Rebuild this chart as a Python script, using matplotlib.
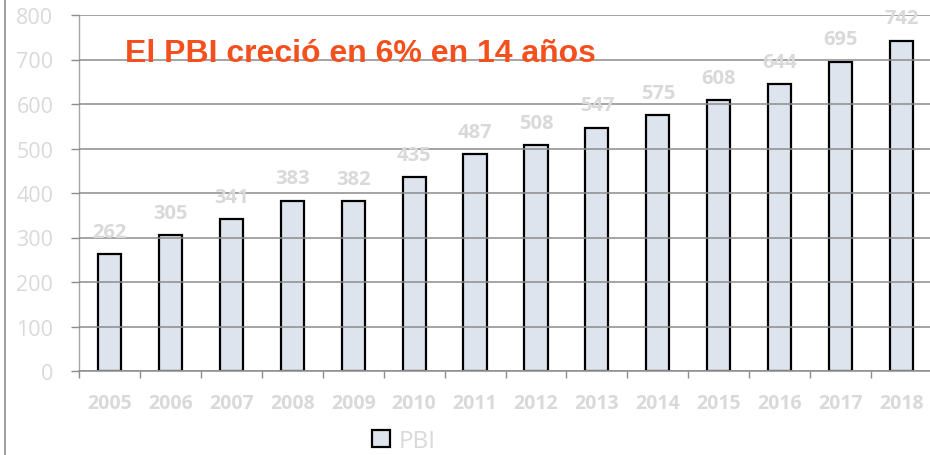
import matplotlib
matplotlib.use("Agg")
import matplotlib.pyplot as plt
from matplotlib.patches import Rectangle
from matplotlib.lines import Line2D
import numpy as np

years = ["2005", "2006", "2007", "2008", "2009", "2010", "2011",
         "2012", "2013", "2014", "2015", "2016", "2017", "2018"]
pbi = [262, 305, 341, 383, 382, 435, 487, 508, 547, 575, 608, 644, 695, 742]
yticks = [0, 100, 200, 300, 400, 500, 600, 700, 800]
title = "El PBI creció en 6% en 14 años"
series_name = "PBI"

W, H = 930, 456
fig = plt.figure(figsize=(W / 100, H / 100), dpi=100)
fig.patch.set_facecolor("white")

left = 79 / W
right = 932 / W
bottom = (H - 372) / H
top = (H - 16) / H
ax = fig.add_axes([left, bottom, right - left, top - bottom])

label_gray = "#d9d9d9"
grid_gray = "#8c8c8c"
bar_fill = "#dee4ee"

x = np.arange(len(years))
bars = ax.bar(x, pbi, width=0.38, color=bar_fill, edgecolor="black",
              linewidth=1.6, zorder=1, label=series_name)

ax.set_xlim(-0.5, len(years) - 0.5)
ax.set_ylim(0, 800)

# gridlines drawn over the bars
ax.set_axisbelow(False)
ax.yaxis.grid(True, color=grid_gray, linewidth=1.1, zorder=2)
ax.set_yticks(yticks)
ax.set_yticklabels([str(v) for v in yticks], fontfamily="Open Sans",
                   fontsize=15.5, color=label_gray)
ax.tick_params(axis="y", length=6, width=1, color=grid_gray, pad=12.5)

ax.set_xticks(x)
ax.set_xticklabels(years, fontfamily="Open Sans", fontweight="bold",
                   fontsize=14, color=label_gray)
ax.set_xticks(np.arange(len(years) + 1) - 0.5, minor=True)
ax.tick_params(axis="x", which="major", length=0, pad=16)
ax.tick_params(axis="x", which="minor", length=5, width=1, color=grid_gray)

for s in ["top", "right"]:
    ax.spines[s].set_visible(False)
ax.spines["left"].set_color("#a6a6a6")
ax.spines["bottom"].set_color(grid_gray)
ax.spines["left"].set_linewidth(1)
ax.spines["bottom"].set_linewidth(1.1)
ax.spines["bottom"].set_zorder(2.2)

# white box behind the title hides part of the 700 gridline
ax.add_patch(Rectangle((-0.48, 668), 9.21, 75, facecolor="white",
                       edgecolor="none", zorder=2.5))

for xi, v in zip(x, pbi):
    ax.annotate(str(v), (xi, v), xytext=(0, 12.5), textcoords="offset points",
                ha="center", va="baseline", fontfamily="Open Sans",
                fontweight="bold", fontsize=14.5, color=label_gray, zorder=3)

fig.text(360 / W, 1 - 62 / H, title, ha="center", va="baseline",
         fontfamily="Liberation Sans", fontweight="bold", fontsize=23,
         color="#f4501e", zorder=5)

# outer frame line at far left
fig.add_artist(Line2D([4.5 / W, 4.5 / W], [0, 1], transform=fig.transFigure,
                      color="#8c8c8c", linewidth=1.2))

leg = fig.legend(handles=[bars], labels=[series_name], loc="center left",
                 bbox_to_anchor=(372 / W, 1 - 442 / H), frameon=False,
                 borderpad=0, borderaxespad=0, handlelength=0.76,
                 handleheight=0.74, handletextpad=0.34,
                 prop={"family": "Open Sans", "size": 17.5})
for t in leg.get_texts():
    t.set_color(label_gray)

fig.savefig("out.png", dpi=100, facecolor="white")
